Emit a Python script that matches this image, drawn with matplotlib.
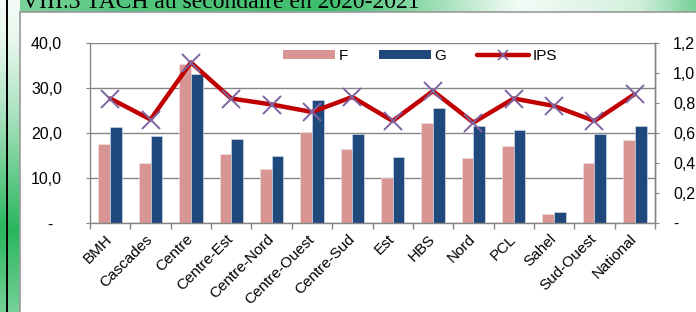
import numpy as np
import matplotlib
matplotlib.use("Agg")
import matplotlib.pyplot as plt
from matplotlib.patches import Rectangle, Patch
from matplotlib.lines import Line2D
from matplotlib.ticker import FixedLocator

plt.rcParams['font.family'] = ['Liberation Sans', 'DejaVu Sans']

categories = ["BMH", "Cascades", "Centre", "Centre-Est", "Centre-Nord", "Centre-Ouest",
              "Centre-Sud", "Est", "HBS", "Nord", "PCL", "Sahel", "Sud-Ouest", "National"]
F = [17.5, 13.3, 35.4, 15.4, 11.9, 20.2, 16.4, 9.9, 22.2, 14.4, 17.1, 1.9, 13.3, 18.4]
G = [21.3, 19.4, 33.2, 18.7, 15.0, 27.3, 19.8, 14.6, 25.5, 21.5, 20.7, 2.5, 19.8, 21.5]
IPS = [0.83, 0.69, 1.07, 0.83, 0.79, 0.74, 0.84, 0.68, 0.88, 0.67, 0.83, 0.78, 0.68, 0.86]
left_ticks = [0, 10, 20, 30, 40]
left_labels = ["-  ", "10,0", "20,0", "30,0", "40,0"]
right_ticks = [0, 0.2, 0.4, 0.6, 0.8, 1.0, 1.2]
right_labels = ["-", "0,2", "0,4", "0,6", "0,8", "1,0", "1,2"]
title = "VIII.3 TACH au secondaire en 2020-2021"

W, H = 696, 312
fig = plt.figure(figsize=(W / 100, H / 100), dpi=100)

# background: green gradient decorations
bg = fig.add_axes([0, 0, 1, 1])
bg.set_xlim(0, W)
bg.set_ylim(H, 0)
bg.axis('off')
green = np.array([0.11, 0.70, 0.33])
white = np.array([1.0, 1.0, 1.0])
# top strip
xs = np.linspace(0, 1, 400)
prof = np.interp(xs * W, [0, 120, 330, 420, 520, 640, 696], [0.55, 0.75, 0.85, 0.5, 0.05, 0.2, 0.6])
img = white[None, None, :] * (1 - prof[None, :, None]) + green[None, None, :] * prof[None, :, None]
img = np.repeat(img, 4, axis=0)
bg.imshow(img, extent=[0, W, 12, 0], aspect='auto', zorder=0)
# left strip
ys = np.linspace(0, 1, 400)
prof2 = np.interp(ys * H, [0, 40, 120, 230, 312], [0.05, 0.1, 0.4, 0.95, 0.6])
img2 = white[None, None, :] * (1 - prof2[:, None, None]) + green[None, None, :] * prof2[:, None, None]
img2 = np.repeat(img2, 4, axis=1)
bg.imshow(img2, extent=[0, 20, H, 0], aspect='auto', zorder=0)
bg.plot([6.5, 6.5], [0, H], color='black', lw=1.4, zorder=2)
bg.add_patch(Rectangle((20, 11.5), W, H, facecolor='white', edgecolor='#9a9a9a', lw=1.2, zorder=1))
bg.text(22, 7.5, title, fontsize=17, family=['Liberation Serif', 'DejaVu Serif'],
        va='baseline', ha='left', color='black', zorder=3)
bg.set_xlim(0, W)
bg.set_ylim(H, 0)

# main axes
ax = fig.add_axes([90 / W, 1 - 223 / H, 565 / W, 180 / H])
ax.set_facecolor('none')
x = np.arange(len(categories))
bw = 0.29
ax.bar(x - bw / 2, F, width=bw, color='#D99594', edgecolor='#f3e3e3', lw=0.4, zorder=2)
ax.bar(x + bw / 2, G, width=bw, color='#1F497D', edgecolor='#dbe3ee', lw=0.4, zorder=2)
ax.set_xlim(-0.5, len(categories) - 0.5)
ax.set_ylim(0, 40)
ax.yaxis.set_major_locator(FixedLocator(left_ticks))
ax.set_yticklabels(left_labels)
ax.grid(axis='y', color='#868686', lw=1.0, zorder=0)
ax.set_axisbelow(True)
ax.spines['top'].set_visible(False)
for s in ['left', 'right', 'bottom']:
    ax.spines[s].set_color('#868686')
    ax.spines[s].set_linewidth(1.0)
ax.tick_params(axis='y', length=3, color='#868686', pad=17, labelsize=11.5)
ax.set_xticks(x)
ax.set_xticklabels(categories, rotation=45, ha='right', va='center',
                   rotation_mode='anchor', fontsize=11)
ax.tick_params(axis='x', which='major', length=0, pad=10)
ax.set_xticks(np.arange(-0.5, len(categories)), minor=True)
ax.tick_params(axis='x', which='minor', length=4, color='#868686', width=1.0)

ax2 = ax.twinx()
ax2.plot(x, IPS, color='#C00000', lw=3.2, zorder=3, solid_capstyle='round', solid_joinstyle='round')
ax2.plot(x, IPS, ls='none', marker='x', ms=13, mew=1.4, color='#8064A2', zorder=4)
ax2.set_ylim(0, 1.2)
ax2.yaxis.set_major_locator(FixedLocator(right_ticks))
ax2.set_yticklabels(right_labels)
ax2.tick_params(axis='y', length=3, color='#868686', pad=10, labelsize=11.5)
for s in ['top', 'left', 'bottom']:
    ax2.spines[s].set_visible(False)
ax2.spines['right'].set_color('#868686')
ax2.spines['right'].set_linewidth(1.0)

handles = [Patch(facecolor='#D99594'), Patch(facecolor='#1F497D'),
           Line2D([], [], color='#C00000', lw=3.2, marker='x', ms=7, mew=1.2,
                  mec='#8064A2', solid_capstyle='round')]
fig.legend(handles, ["F", "G", "IPS"], loc='center', ncol=3, frameon=False,
           bbox_to_anchor=(420 / W, 1 - 56 / H), fontsize=11, handlelength=3.4,
           handleheight=0.6, handletextpad=0.25, columnspacing=2.0)

fig.savefig("out.png", dpi=100)
